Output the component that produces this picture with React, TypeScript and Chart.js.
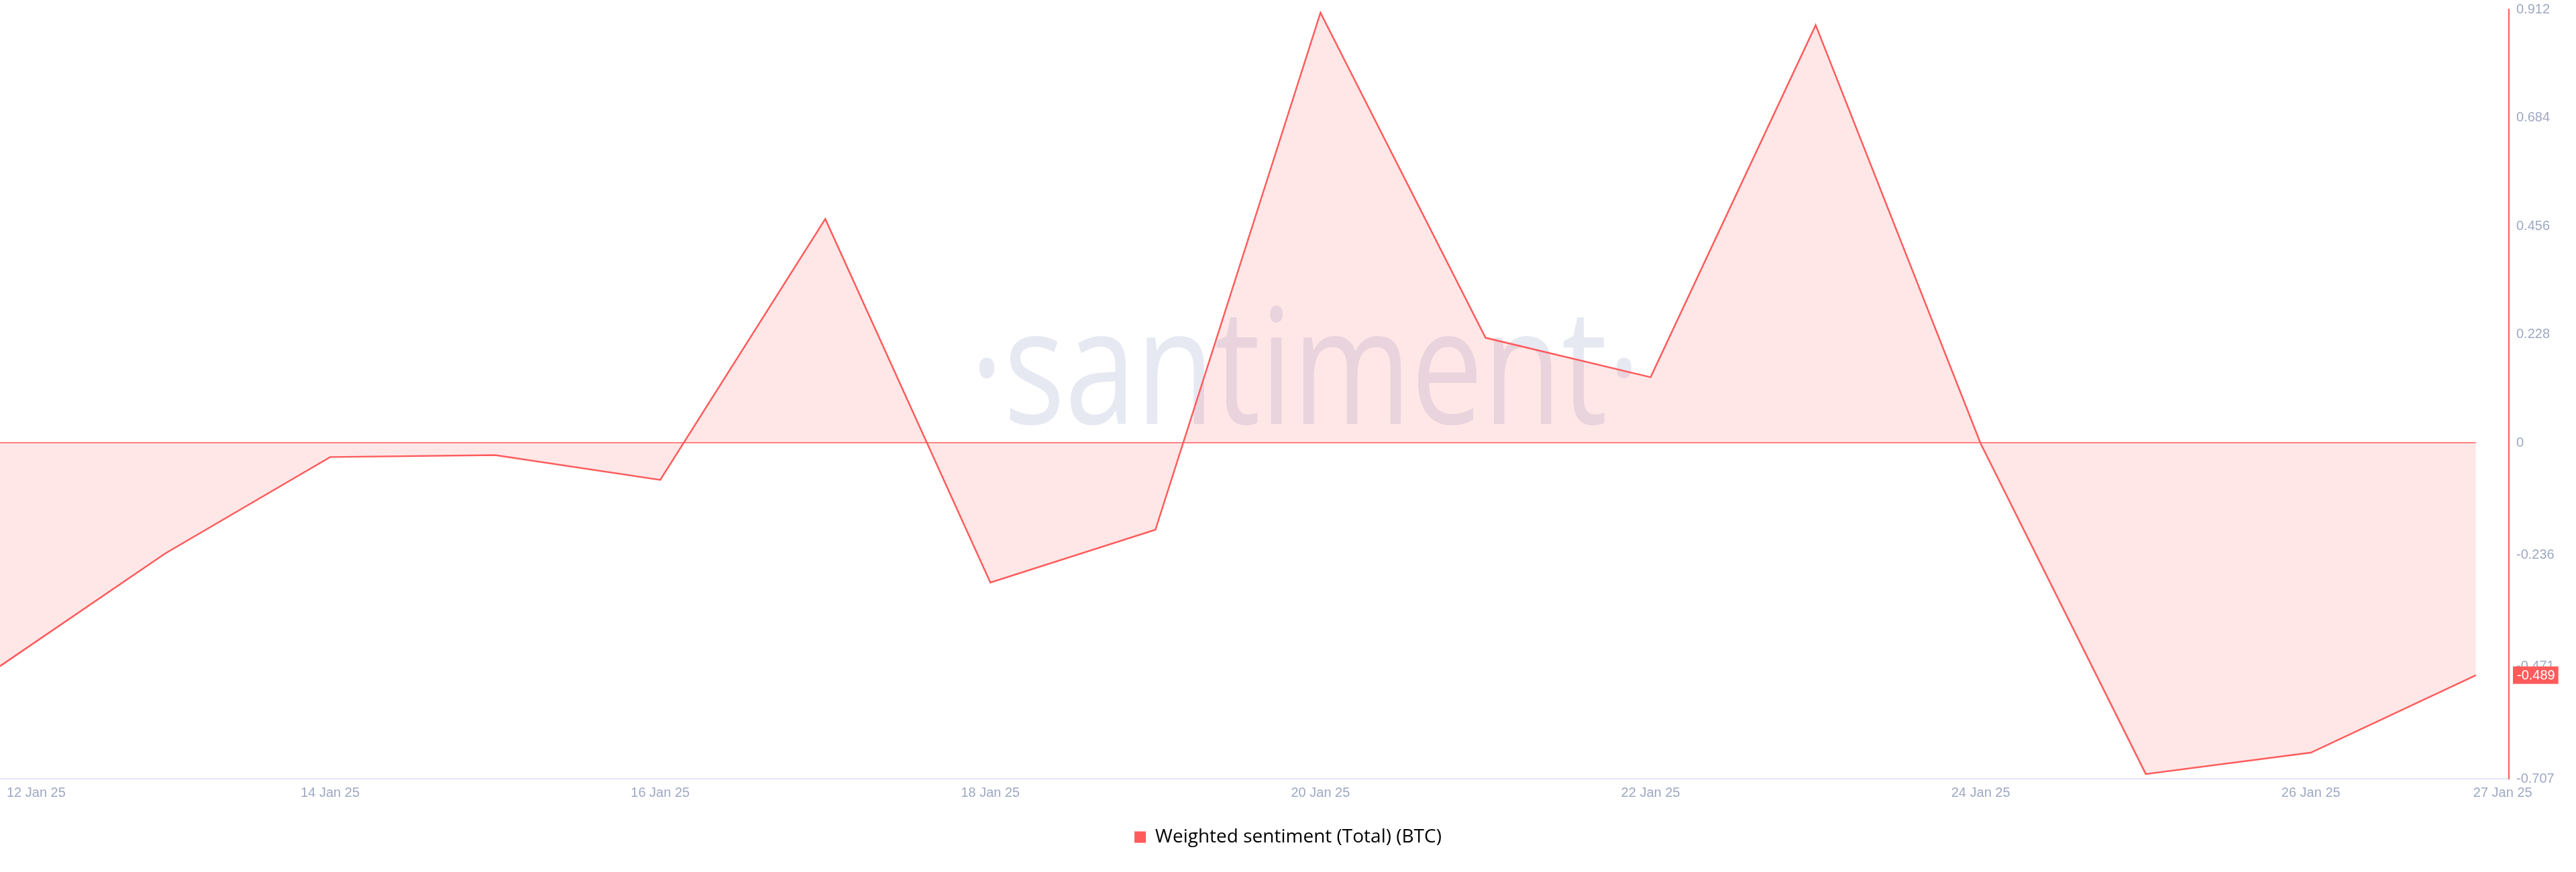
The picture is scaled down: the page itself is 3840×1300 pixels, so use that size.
import React, { useEffect, useRef } from "react";
import { Chart, registerables } from "chart.js";

Chart.register(...registerables);

const dates = [
  "12 Jan 25", "13 Jan 25", "14 Jan 25", "15 Jan 25", "16 Jan 25", "17 Jan 25",
  "18 Jan 25", "19 Jan 25", "20 Jan 25", "21 Jan 25", "22 Jan 25", "23 Jan 25",
  "24 Jan 25", "25 Jan 25", "26 Jan 25", "27 Jan 25",
];
const sentiment = [
  -0.47, -0.233, -0.03, -0.026, -0.078, 0.471, -0.294, -0.183,
  0.905, 0.221, 0.138, 0.879, -0.002, -0.697, -0.652, -0.489,
];
const xTickIndices = [0, 2, 4, 6, 8, 10, 12, 14, 15];
const yTickValues = [0.912, 0.684, 0.456, 0.228, 0, -0.236, -0.471, -0.707];
const yTickLabels = ["0.912", "0.684", "0.456", "0.228", "0", "-0.236", "-0.471", "-0.707"];
const seriesName = "Weighted sentiment (Total) (BTC)";
const lastValueLabel = "-0.489";

const RED = "#ff5b5b";
const TICK_COLOR = "#9ea8c3";
const TICK_FONT = '20px "Liberation Sans", Arial, sans-serif';

const watermarkPlugin = {
  id: "watermark",
  beforeDatasetsDraw(chart: any) {
    const ctx = chart.ctx;
    ctx.save();
    ctx.font = '240px "Open Sans", sans-serif';
    ctx.fillStyle = "#e6e8f2";
    ctx.textBaseline = "alphabetic";
    ctx.textAlign = "center";
    const text = "\u00b7santiment\u00b7";
    const w = ctx.measureText(text).width;
    const sx = 1000 / w;
    ctx.translate(1946, 632);
    ctx.scale(sx, 1);
    ctx.fillText(text, 0, 0);
    ctx.restore();
  },
};

const xLabelsPlugin = {
  id: "xlabels",
  afterDraw(chart: any) {
    const ctx = chart.ctx;
    const xs = chart.scales.x;
    const y = chart.chartArea.bottom + 21;
    ctx.save();
    ctx.font = TICK_FONT;
    ctx.fillStyle = TICK_COLOR;
    ctx.textBaseline = "middle";
    xTickIndices.forEach((idx, k) => {
      const px = xs.getPixelForValue(idx);
      if (k === 0) {
        ctx.textAlign = "left";
        ctx.fillText(dates[idx], px + 10, y);
      } else if (k === xTickIndices.length - 1) {
        ctx.textAlign = "left";
        ctx.fillText(dates[idx], px - 4, y);
      } else {
        ctx.textAlign = "center";
        ctx.fillText(dates[idx], px, y);
      }
    });
    ctx.restore();
  },
};

const badgePlugin = {
  id: "badge",
  afterDraw(chart: any) {
    const ctx = chart.ctx;
    const ys = chart.scales.y;
    const yv = ys.getPixelForValue(sentiment[sentiment.length - 1]);
    const x0 = chart.chartArea.right + 6;
    ctx.save();
    ctx.font = TICK_FONT;
    const w = ctx.measureText(lastValueLabel).width;
    ctx.fillStyle = RED;
    ctx.fillRect(x0, yv - 13, w + 11, 26);
    ctx.fillStyle = "#ffffff";
    ctx.textBaseline = "middle";
    ctx.textAlign = "left";
    ctx.fillText(lastValueLabel, x0 + 6, yv + 1);
    ctx.restore();
  },
};

export default function App() {
  const ref = useRef<HTMLCanvasElement | null>(null);
  useEffect(() => {
    if (!ref.current) return;
    const chart = new Chart(ref.current, {
      type: "line",
      data: {
        datasets: [
          {
            label: seriesName,
            data: sentiment.map((v, i) => ({ x: i, y: v })),
            borderColor: RED,
            backgroundColor: "rgba(255, 91, 91, 0.15)",
            borderWidth: 2.5,
            pointRadius: 0,
            tension: 0,
            fill: "origin",
          },
          {
            label: "zero",
            data: [
              { x: 0, y: 0 },
              { x: dates.length - 1, y: 0 },
            ],
            borderColor: RED,
            borderWidth: 1.5,
            pointRadius: 0,
            fill: false,
          },
        ],
      },
      options: {
        responsive: false,
        animation: false,
        devicePixelRatio: 1,
        layout: { padding: { top: 14, left: 0, right: 0, bottom: 28 } },
        plugins: {
          legend: {
            display: true,
            position: "bottom",
            labels: {
              boxWidth: 17,
              boxHeight: 17,
              padding: 20,
              color: "#1b1e27",
              font: { family: '"Open Sans", sans-serif', size: 28 },
              generateLabels: () => [
                {
                  text: seriesName,
                  fillStyle: RED,
                  strokeStyle: RED,
                  lineWidth: 0,
                  hidden: false,
                  datasetIndex: 0,
                },
              ],
            },
          },
          tooltip: { enabled: false },
        },
        scales: {
          x: {
            type: "linear",
            min: 0,
            max: 15.2,
            grid: { display: false },
            border: { display: true, color: "#e3e7f1", width: 2 },
            ticks: { display: false },
            afterFit: (s: any) => {
              s.height = 53;
              s.paddingLeft = 0;
              s.paddingRight = 0;
            },
          },
          y: {
            position: "right",
            min: -0.707,
            max: 0.912,
            grid: { display: false, drawTicks: false },
            border: { display: true, color: RED, width: 2 },
            afterBuildTicks: (s: any) => {
              s.ticks = yTickValues.map((v) => ({ value: v }));
            },
            ticks: {
              padding: 11,
              color: TICK_COLOR,
              font: { family: '"Liberation Sans", Arial, sans-serif', size: 20 },
              callback: (v: any) => {
                const i = yTickValues.indexOf(Number(v));
                return i >= 0 ? yTickLabels[i] : "";
              },
            },
            afterFit: (s: any) => {
              s.width = 100;
              s.paddingTop = 0;
              s.paddingBottom = 0;
            },
          },
        },
      },
      plugins: [watermarkPlugin, xLabelsPlugin, badgePlugin],
    } as any);
    return () => chart.destroy();
  }, []);
  return (
    <div style={{ position: "absolute", left: 0, top: 0, width: 3840, height: 1300, background: "#fff" }}>
      <canvas ref={ref} width={3840} height={1300} style={{ display: "block" }} />
    </div>
  );
}
